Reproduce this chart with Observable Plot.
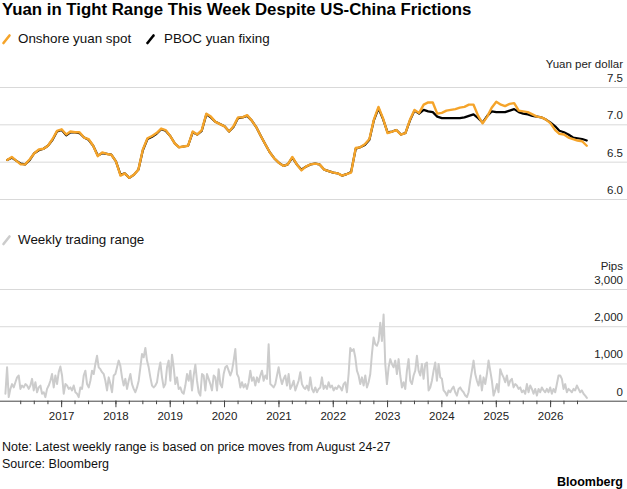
<!DOCTYPE html>
<html>
<head>
<meta charset="utf-8">
<script src="https://cdn.jsdelivr.net/npm/d3@7"></script>
<script src="https://cdn.jsdelivr.net/npm/@observablehq/plot@0.6"></script>
<style>
  html, body { margin: 0; padding: 0; background: #fff; }
  body { width: 627px; height: 489px; position: relative; overflow: hidden;
         font-family: "Liberation Sans", Arial, Helvetica, sans-serif; color: #111; }
  .abs { position: absolute; white-space: nowrap; }
  #title { left: 2px; top: 1px; font-size: 16.8px; font-weight: bold; line-height: 17px; color: #000; }
  .legend { font-size: 13.4px; line-height: 13.4px; color: #111; }
  .legend svg { position: absolute; }
  #note, #source { left: 2px; font-size: 12.5px; line-height: 12.5px; color: #111; }
  #logo { right: 4px; font-size: 12.5px; font-weight: bold; line-height: 12.5px; color: #000; }
  #top, #bottom { left: 0; }
  svg { display: block; }
</style>
</head>
<body>
<div id="title" class="abs">Yuan in Tight Range This Week Despite US-China Frictions</div>

<div class="abs legend" style="left:0;top:32px;width:300px;height:16px;">
  <svg width="12" height="12" style="left:1px;top:1px"><line x1="2.5" y1="10" x2="8.5" y2="2.5" stroke="#f5a42a" stroke-width="2.6" stroke-linecap="round"/></svg>
  <span style="position:absolute;left:18px;top:0">Onshore yuan spot</span>
  <svg width="12" height="12" style="left:145px;top:1px"><line x1="2.5" y1="10" x2="8.5" y2="2.5" stroke="#000" stroke-width="2.6" stroke-linecap="round"/></svg>
  <span style="position:absolute;left:164px;top:0">PBOC yuan fixing</span>
</div>

<div id="top" class="abs" style="top:50px"></div>

<div class="abs legend" style="left:0;top:232.5px;width:300px;height:16px;">
  <svg width="12" height="12" style="left:1px;top:1px"><line x1="2.5" y1="10" x2="8.5" y2="2.5" stroke="#cccccc" stroke-width="2.6" stroke-linecap="round"/></svg>
  <span style="position:absolute;left:18px;top:0">Weekly trading range</span>
</div>

<div id="bottom" class="abs" style="top:255px"></div>

<div id="note" class="abs" style="top:441px">Note: Latest weekly range is based on price moves from August 24-27</div>
<div id="source" class="abs" style="top:458px">Source: Bloomberg</div>
<div id="logo" class="abs" style="top:476px">Bloomberg</div>

<script>
// ---------- DATA ----------
// Monthly readings, starting January 2016 (one value per month)
const monthStart = "2016-01-01";
const spotValues = [
  6.53,6.57,6.52,6.47,6.47,6.54,6.62,6.67,6.68,6.72,
  6.81,6.92,6.94,6.87,6.91,6.90,6.90,6.83,6.81,6.72,
  6.58,6.63,6.61,6.60,6.51,6.32,6.35,6.29,6.33,6.40,
  6.67,6.82,6.85,6.89,6.95,6.93,6.85,6.75,6.70,6.71,
  6.72,6.91,6.87,6.93,7.15,7.11,7.04,7.01,6.98,6.91,
  6.98,7.10,7.10,7.13,7.06,6.97,6.85,6.74,6.63,6.55,
  6.49,6.45,6.47,6.57,6.47,6.39,6.44,6.47,6.48,6.47,
  6.40,6.38,6.36,6.35,6.32,6.34,6.36,6.69,6.70,6.74,
  6.81,7.07,7.24,7.09,6.89,6.91,6.93,6.87,6.89,7.07,
  7.20,7.16,7.27,7.30,7.30,7.15,7.16,7.19,7.20,7.21,
  7.23,7.24,7.27,7.27,7.12,7.02,7.11,7.23,7.31,7.27,
  7.25,7.28,7.29,7.19,7.18,7.17,7.14,7.11,7.10,7.07,
  7.02,6.93,6.88,6.87,6.83,6.81,6.79,6.78,6.72
];
const fixingValues = [
  6.53,6.56,6.52,6.48,6.47,6.53,6.62,6.66,6.68,6.72,
  6.80,6.91,6.93,6.86,6.90,6.90,6.89,6.83,6.80,6.72,
  6.59,6.62,6.61,6.60,6.51,6.33,6.35,6.29,6.33,6.40,
  6.66,6.81,6.84,6.88,6.94,6.92,6.85,6.75,6.70,6.71,
  6.72,6.90,6.87,6.92,7.14,7.10,7.04,7.01,6.98,6.91,
  6.97,7.09,7.10,7.12,7.06,6.97,6.85,6.74,6.63,6.55,
  6.49,6.45,6.47,6.56,6.47,6.40,6.44,6.47,6.48,6.47,
  6.40,6.38,6.36,6.35,6.32,6.34,6.37,6.68,6.70,6.73,
  6.80,7.06,7.22,7.08,6.90,6.91,6.93,6.87,6.89,7.06,
  7.19,7.15,7.20,7.18,7.17,7.11,7.09,7.09,7.09,7.09,
  7.09,7.10,7.12,7.14,7.09,7.03,7.12,7.18,7.17,7.17,
  7.17,7.19,7.21,7.17,7.15,7.14,7.12,7.11,7.10,7.07,
  7.03,6.98,6.92,6.90,6.87,6.83,6.82,6.81,6.79
];
// Weekly trading range (pips), read at a regular spacing from late Dec 2015
const rangeStart = "2015-12-20";
const rangeStepDays = 11.2;
const rangePips = [
  200,910,110,330,460,370,510,640,690,330,
  420,370,460,420,330,420,600,290,510,240,
  370,420,200,240,110,330,420,550,730,370,
  690,460,780,930,690,200,460,420,330,370,
  290,420,240,200,110,370,330,690,820,460,
  370,550,820,730,1000,1220,910,860,780,730,
  550,290,640,460,240,690,730,910,1090,950,
  640,420,600,330,550,730,460,330,240,370,
  550,910,1270,1180,1430,1090,910,640,420,
  370,420,510,820,1040,640,370,460,910,1090,
  550,1250,910,460,640,
  330,370,240,200,420,730,550,820,290,690,
  980,550,240,150,730,690,290,730,600,
  460,290,690,640,290,860,460,370,730,910,
  950,820,690,820,1090,1400,730,640,370,510,
  370,460,330,510,820,550,640,420,640,510,
  690,820,550,690,600,1530,460,420,370,460,
  690,910,640,460,600,690,420,730,330,420,
  550,290,420,550,780,460,370,330,420,290,
  640,330,240,370,240,330,
  370,640,330,420,330,510,370,420,290,370,
  330,420,370,290,460,510,240,730,1430,1350,
  1400,1180,820,690,460,640,420,690,370,510,
  730,1270,1710,1530,1490,1620,2110,1620,2330,1000,
  460,910,1130,1000,910,1090,730,1130,690,370,
  510,330,820,1130,550,460,690,820,1220,820,
  690,1000,600,1000,1040,290,370,550,820,1040,
  550,1000,640,600,290,240,150,290,240,330,
  390,240,150,330,370,290,240,150,110,240,
  550,820,1090,730,550,420,690,290,640,460,
  730,1090,820,550,150,290,460,240,860,730,
  640,510,690,420,550,600,370,460,420,330,
  370,240,290,200,460,240,420,330,200,330,
  150,330,240,370,290,240,330,240,370,200,
  330,240,460,690,690,600,330,460,240,330,
  290,240,330,290,420,330,240,290,200,150,
  90
];
const yuanTicks = [6.0, 6.5, 7.0, 7.5];
const pipTicks = [0, 1000, 2000, 3000];
const yearLabels = ["2017","2018","2019","2020","2021","2022","2023","2024","2025","2026"];
const xDomain = ["2015-11-17", "2027-06-02"];

// ---------- BUILD ----------
const ORANGE = "#f5a42a";
const FONT = "'Liberation Sans', Arial, Helvetica, sans-serif";
const m0 = new Date(monthStart);
const monthDate = i => new Date(Date.UTC(m0.getUTCFullYear(), m0.getUTCMonth() + i, 1));
const spotData = spotValues.map((v, i) => ({date: monthDate(i), value: v}));
const fixingData = fixingValues.map((v, i) => ({date: monthDate(i), value: v}));
const r0 = new Date(rangeStart).getTime();
const rangeData = rangePips.map((v, i) => ({date: new Date(r0 + i * rangeStepDays * 864e5), value: v}));
const xDom = xDomain.map(d => new Date(d));
const yearTicks = yearLabels.map(y => new Date(Date.UTC(+y, 0, 1)));
const quarterTicks = d3.utcMonth.every(3).range(new Date("2016-04-01"), new Date("2026-07-02"));

const style = {fontFamily: FONT, fontSize: "11.5px", color: "#222", background: "transparent", overflow: "visible"};

const topChart = Plot.plot({
  width: 627, height: 155,
  marginLeft: 0, marginRight: 0, marginTop: 37, marginBottom: 6,
  x: {type: "utc", domain: xDom, axis: null},
  y: {domain: [6, 7.5], axis: null},
  style,
  marks: [
    Plot.ruleY(yuanTicks, {stroke: "#d9d9d9", strokeWidth: 1}),
    Plot.text(yuanTicks, {y: d => d, text: d => d.toFixed(1), frameAnchor: "right", textAnchor: "end", lineAnchor: "bottom", dx: -4.5, dy: -5.5, fill: "#222"}),
    Plot.text(["Yuan per dollar"], {text: d => d, frameAnchor: "top-right", textAnchor: "end", lineAnchor: "bottom", dx: -4.5, dy: -20, fill: "#222"}),
    Plot.line(fixingData, {x: "date", y: "value", stroke: "#000", strokeWidth: 2.2, strokeLinejoin: "round"}),
    Plot.line(spotData, {x: "date", y: "value", stroke: ORANGE, strokeWidth: 2.4, strokeLinejoin: "round"})
  ]
});
document.getElementById("top").appendChild(topChart);

const bottomChart = Plot.plot({
  width: 627, height: 170,
  marginLeft: 0, marginRight: 0, marginTop: 34, marginBottom: 24.3,
  x: {type: "utc", domain: xDom, axis: null},
  y: {domain: [0, 3000], axis: null},
  style,
  marks: [
    Plot.ruleY(pipTicks.filter(d => d > 0), {stroke: "#d9d9d9", strokeWidth: 1}),
    Plot.text(pipTicks, {y: d => d, text: d => d3.format(",")(d), frameAnchor: "right", textAnchor: "end", lineAnchor: "bottom", dx: -4.5, dy: -5.5, fill: "#222"}),
    Plot.text(["Pips"], {text: d => d, frameAnchor: "top-right", textAnchor: "end", lineAnchor: "bottom", dx: -4.5, dy: -19.5, fill: "#222"}),
    Plot.line(rangeData, {x: "date", y: "value", stroke: "#cccccc", strokeWidth: 2, strokeLinejoin: "round"}),
    Plot.ruleY([0], {stroke: "#444", strokeWidth: 1}),
    Plot.axisX(quarterTicks, {tickSize: 3.5, tickFormat: () => "", stroke: "#444"}),
    Plot.axisX(yearTicks, {tickSize: 6.5, tickPadding: 4.5, tickFormat: d => String(d.getUTCFullYear()), stroke: "#444", fill: "#222", fontSize: 11.5})
  ]
});
document.getElementById("bottom").appendChild(bottomChart);
</script>
</body>
</html>
